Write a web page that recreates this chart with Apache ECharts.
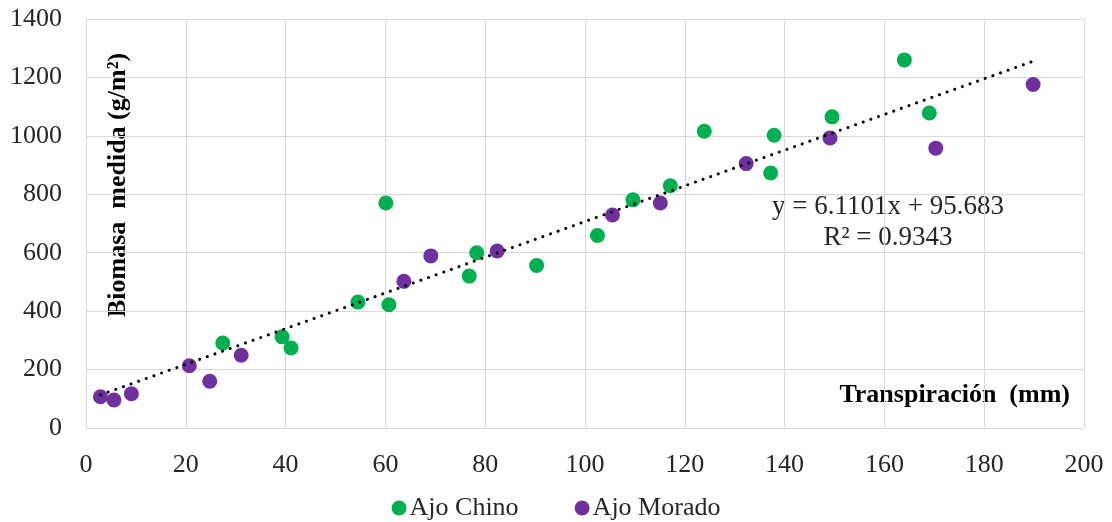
<!DOCTYPE html>
<html><head><meta charset="utf-8">
<script src="https://cdn.jsdelivr.net/npm/echarts@6/dist/echarts.min.js"></script>
<style>html,body{margin:0;padding:0;background:#fff}#c{width:1112px;height:522px}</style>
</head><body><div id="c"></div>
<script>
const seriesNames = ['Ajo Chino', 'Ajo Morado'];
const chinoX = [27.4, 39.3, 41.1, 54.5, 60.1, 60.7, 76.8, 78.3, 90.3, 102.5, 109.6, 117.1, 123.9, 137.2, 137.9, 149.5, 164.0, 169.0];
const chinoY = [291, 312, 274, 431, 770, 422, 520, 600, 556, 659, 781, 829, 1016, 873, 1002, 1065, 1260, 1078];
const moradoX = [2.9, 5.6, 9.1, 20.7, 24.8, 31.1, 63.7, 69.1, 82.4, 105.5, 115.1, 132.3, 149.1, 170.3, 189.8];
const moradoY = [107, 96, 117, 213, 160, 249, 502, 589, 606, 729, 770, 905, 993, 958, 1176];
const trendSlope = 6.1101, trendIntercept = 95.683;
const trendRange = [2.9, 189.8];
const equationLines = ['y = 6.1101x + 95.683', 'R² = 0.9343'];
const yAxisTitle = 'Biomasa  medida (g/m²)';
const xAxisTitle = 'Transpiración  (mm)';

const zip = (xs, ys) => xs.map((x, i) => [x, ys[i]]);
const trendData = trendRange.map(x => [x, trendSlope * x + trendIntercept]);
const FONT = '"Liberation Serif", "Times New Roman", serif';

const chart = echarts.init(document.getElementById('c'));
chart.setOption({
  animation: false,
  textStyle: { fontFamily: FONT },
  grid: { left: 86, right: 28, top: 19, bottom: 94 },
  xAxis: {
    type: 'value', min: 0, max: 200, interval: 20,
    axisLine: { show: true, lineStyle: { color: '#d9d9d9' } },
    axisTick: { show: false },
    splitLine: { show: true, lineStyle: { color: '#d9d9d9' } },
    axisLabel: { color: '#262626', fontSize: 26, fontFamily: FONT, margin: 24, formatter: v => String(v) }
  },
  yAxis: {
    type: 'value', min: 0, max: 1400, interval: 200,
    axisLine: { show: false },
    axisTick: { show: false },
    splitLine: { show: true, lineStyle: { color: '#d9d9d9' } },
    axisLabel: { color: '#262626', fontSize: 26, fontFamily: FONT, margin: 24, formatter: v => String(v) }
  },
  legend: {
    top: 490, left: 'center', itemGap: 56, itemWidth: 15, itemHeight: 15,
    data: seriesNames.map(n => ({ name: n, icon: 'circle' })),
    textStyle: { color: '#262626', fontSize: 26, fontFamily: FONT, padding: [0, 0, 0, -2] }
  },
  series: [
    { name: seriesNames[0], type: 'scatter', symbolSize: 15, z: 3,
      itemStyle: { color: '#00B050', opacity: 1 }, data: zip(chinoX, chinoY) },
    { name: seriesNames[1], type: 'scatter', symbolSize: 15, z: 3,
      itemStyle: { color: '#7030A0', opacity: 1 }, data: zip(moradoX, moradoY) },
    { name: 'trend', type: 'line', showSymbol: false, symbol: 'none', z: 4, silent: true,
      lineStyle: { color: '#000', width: 3, type: [0.1, 8], cap: 'round' }, data: trendData }
  ],
  graphic: [
    { type: 'text', x: 118, y: 185, rotation: Math.PI / 2,
      style: { text: yAxisTitle, font: 'bold 26px ' + FONT, fill: '#000', align: 'center', verticalAlign: 'middle' } },
    { type: 'text', x: 1070, y: 395,
      style: { text: xAxisTitle, font: 'bold 26px ' + FONT, fill: '#000', align: 'right', verticalAlign: 'middle' } },
    { type: 'text', x: 888, y: 207,
      style: { text: equationLines[0], font: '27px ' + FONT, fill: '#262626', align: 'center', verticalAlign: 'middle' } },
    { type: 'text', x: 888, y: 238,
      style: { text: equationLines[1], font: '27px ' + FONT, fill: '#262626', align: 'center', verticalAlign: 'middle' } }
  ]
});
</script></body></html>
